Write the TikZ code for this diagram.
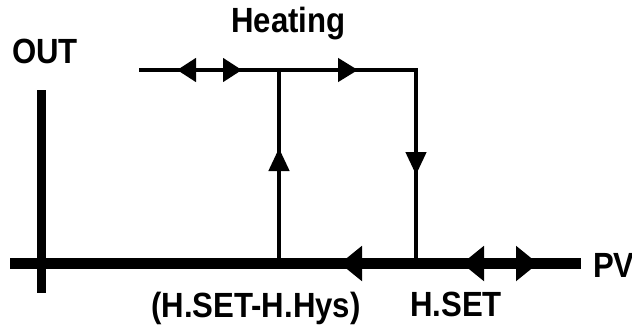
\documentclass[tikz,border=0pt]{standalone}
\usepackage{fontspec}
\setmainfont{Liberation Sans}
\newfontfamily\lblfont[FakeStretch=0.89]{Liberation Sans}
\usetikzlibrary{arrows.meta}

\begin{document}
\begin{tikzpicture}[x=1pt, y=-1pt,
  lbl/.style={font=\lblfont\bfseries\fontsize{35}{35}\selectfont, inner sep=0pt, anchor=base west},
  axisline/.style={line width=11pt},
  curve/.style={line width=4.5pt},
  smalltip/.style={-{Triangle[length=20pt, width=23pt]}},
  vtip/.style={-{Triangle[length=23pt, width=20pt]}},
  bigtip/.style={-{Triangle[length=22pt, width=34pt]}},
  dbltop/.style={{Triangle[length=19pt, width=23pt]}-{Triangle[length=19pt, width=23pt]}},
  dblaxis/.style={{Triangle[length=22pt, width=34pt]}-{Triangle[length=22pt, width=34pt]}}
]
  \useasboundingbox (0,0) rectangle (632,327);
  % axes
  \coordinate (xl) at (10,263.5);
  \coordinate (xr) at (581,263.5);
  \coordinate (yt) at (41.5,90);
  \coordinate (yb) at (41.5,293);
  \draw[axisline] (xl) -- (xr);
  \draw[line width=9pt] (yt) -- (yb);
  % hysteresis loop
  \coordinate (tl) at (139,70);
  \coordinate (on) at (279,70);
  \coordinate (off) at (416,70);
  \coordinate (onb) at (279,263);
  \coordinate (offb) at (416,263);
  \draw[curve] (tl) -- (off) -- (offb);
  \draw[curve] (onb) -- (on);
  % arrows on the loop
  \coordinate (ua) at (279,172);  \coordinate (ub) at (279,148);
  \coordinate (da) at (416,152);  \coordinate (db) at (416,175);
  \coordinate (ra) at (336,70);   \coordinate (rb) at (358,70);
  \coordinate (la) at (364,263.5);  \coordinate (lb) at (340,263.5);
  \draw[curve, vtip] (ua) -- (ub);
  \draw[curve, vtip] (da) -- (db);
  \draw[curve, smalltip] (ra) -- (rb);
  \draw[axisline, bigtip] (la) -- (lb);
  % hysteresis width marks
  \coordinate (h1) at (177,70);  \coordinate (h2) at (242,70);
  \coordinate (s1) at (462,263.5); \coordinate (s2) at (538,263.5);
  \draw[curve, dbltop] (h1) -- (h2);
  \draw[axisline, dblaxis] (s1) -- (s2);
  % labels
  \node[lbl] (out) at (12,63) {OUT};
  \node[lbl] (heat) at (231,32) {Heating};
  \node[lbl] (pv) at (593,277) {PV};
  \node[lbl] (hys) at (151,317) {(H.SET-H.Hys)};
  \node[lbl] (hset) at (410,316) {H.SET};
\end{tikzpicture}
\end{document}
